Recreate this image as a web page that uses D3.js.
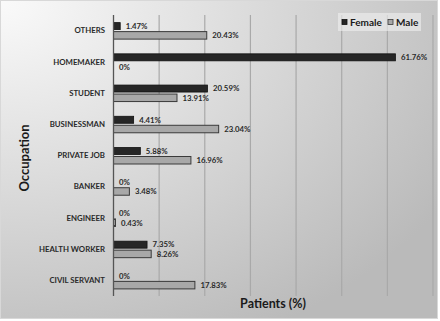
<!DOCTYPE html>
<html>
<head>
<meta charset="UTF-8">
<script src="https://cdn.jsdelivr.net/npm/d3@7"></script>
<style>
  body{margin:0;background:#fff;}
  text{font-family:Lato,"Open Sans",sans-serif;font-weight:bold;fill:#1a1a1a;}
  .grid line{stroke:#a9a9a9;stroke-width:1.2px;}
</style>
</head>
<body>
<div id="chart"></div>
<script>
var categories=['OTHERS','HOMEMAKER','STUDENT','BUSINESSMAN','PRIVATE JOB','BANKER','ENGINEER','HEALTH WORKER','CIVIL SERVANT'];
var female=[1.47,61.76,20.59,4.41,5.88,0,0,7.35,0];
var male=[20.43,0,13.91,23.04,16.96,3.48,0.43,8.26,17.83];
var gridTicks=[0,10,20,30,40,50,60,70];
var seriesNames=['Female','Male'];

var W=440,H=321;
var svg=d3.select('#chart').append('svg').attr('width',W).attr('height',H);

// background gradient
var defs=svg.append('defs');
var grad=defs.append('radialGradient').attr('id','bg')
    .attr('cx','0%').attr('cy','0%').attr('r','120%');
grad.append('stop').attr('offset','0%').attr('stop-color','#fafafa');
grad.append('stop').attr('offset','100%').attr('stop-color','#bababa');
svg.append('rect').attr('x',0.5).attr('y',0.5).attr('width',W-3).attr('height',H-3)
    .attr('fill','url(#bg)').attr('stroke','#d8d8d8');

var x=d3.scaleLinear().domain([0,70]).range([113.5,433]);
var y=d3.scaleBand().domain(categories).range([15,296]);

// gridlines
svg.append('g').attr('class','grid').selectAll('line')
    .data(gridTicks.slice(1)).enter().append('line')
    .attr('x1',function(d){return x(d)}).attr('x2',function(d){return x(d)})
    .attr('y1',15).attr('y2',296);

var rows=categories.map(function(c,i){return {cat:c,f:female[i],m:male[i]}});
var g=svg.selectAll('.row').data(rows).enter().append('g').attr('class','row')
    .attr('transform',function(d){return 'translate(0,'+(y(d.cat)+y.bandwidth()/2)+')'});

g.append('rect').attr('x',x(0)).attr('y',-8).attr('height',7)
    .attr('width',function(d){return x(d.f)-x(0)})
    .attr('fill','#262626').attr('stroke','#111').attr('stroke-width',0.8);
g.append('rect').attr('x',x(0)).attr('y',1).attr('height',7.5)
    .attr('width',function(d){return x(d.m)-x(0)})
    .attr('fill','#a8a8a8').attr('stroke','#3a3a3a').attr('stroke-width',1);

g.append('text').attr('x',function(d){return x(d.f)+5.5}).attr('y',-4.5)
    .attr('dy','0.35em').style('font-size','7.8px').style('fill','#2a2a2a')
    .text(function(d){return d.f+'%'});
g.append('text').attr('x',function(d){return x(d.m)+5.5}).attr('y',5)
    .attr('dy','0.35em').style('font-size','7.8px').style('fill','#2a2a2a')
    .text(function(d){return d.m+'%'});

g.append('text').attr('x',105).attr('y',0).attr('dy','0.35em')
    .attr('text-anchor','end').style('font-size','7.8px').style('fill','#2a2a2a')
    .text(function(d){return d.cat});

// axis line
svg.append('line').attr('x1',x(0)).attr('x2',x(0)).attr('y1',15).attr('y2',296)
    .attr('stroke','#555').attr('stroke-width',1.3);

// axis titles
svg.append('text').attr('transform','translate(24,158) rotate(-90)')
    .attr('text-anchor','middle').attr('dy','0.35em').style('font-size','13px')
    .text('Occupation');
svg.append('text').attr('x',273).attr('y',308).attr('text-anchor','middle')
    .style('font-size','12.5px').text('Patients (%)');

// legend
var lg=svg.append('g').attr('transform','translate(338,13)');
lg.append('rect').attr('width',83).attr('height',18).attr('fill','#f0f0f0').attr('opacity',0.6);
var items=lg.selectAll('.li').data(seriesNames).enter().append('g')
    .attr('transform',function(d,i){return 'translate('+(i?50:4)+',0)'});
items.append('rect').attr('x',0).attr('y',6.5).attr('width',5).attr('height',5)
    .attr('fill',function(d,i){return i?'#a8a8a8':'#262626'})
    .attr('stroke',function(d,i){return i?'#3a3a3a':'#111'}).attr('stroke-width',0.8);
items.append('text').attr('x',8).attr('y',9).attr('dy','0.35em')
    .style('font-size','10px').text(function(d){return d});
</script>
</body>
</html>
